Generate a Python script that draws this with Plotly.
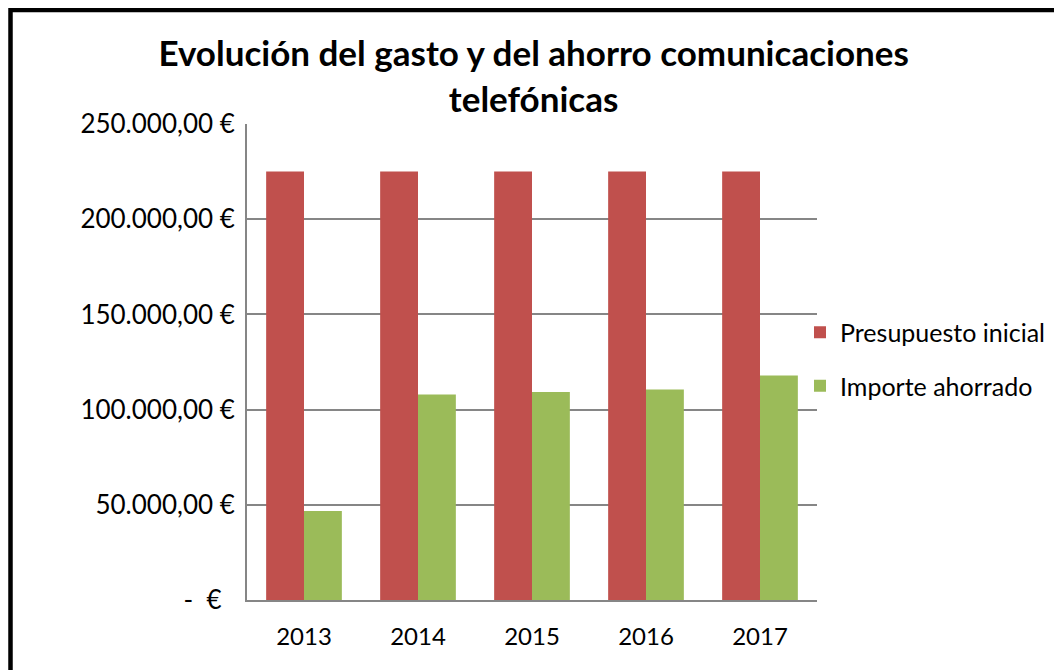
import plotly.graph_objects as go

# Datos del gráfico
anios = ["2013", "2014", "2015", "2016", "2017"]
presupuesto_inicial = [225000, 225000, 225000, 225000, 225000]
importe_ahorrado = [46800, 107900, 109300, 110500, 117900]

tick_vals = [0, 50000, 100000, 150000, 200000, 250000]
tick_text = ["-  €  ", "50.000,00 €", "100.000,00 €", "150.000,00 €",
             "200.000,00 €", "250.000,00 €"]

# la página tiene 8px de margen en el body
W, H = 1054, 662
L, R, T, B = 239, 245, 116, 70
pw, ph = W - L - R, H - T - B

fig = go.Figure()

fig.add_trace(go.Bar(
    x=anios, y=presupuesto_inicial, name="Presupuesto inicial",
    legendgroup="a",
    marker=dict(color="#C0504D", line=dict(width=0)),
))
fig.add_trace(go.Bar(
    x=anios, y=importe_ahorrado, name="Importe ahorrado",
    legendgroup="b",
    marker=dict(color="#9BBB59", line=dict(width=0)),
))

# Marco negro alrededor del gráfico
fig.add_shape(
    type="rect", xref="paper", yref="paper",
    x0=(2.5 - L) / pw, x1=(1053.5 - L) / pw,
    y0=-(30 + B) / ph, y1=(H - 2 - B) / ph,
    line=dict(color="black", width=4.5),
)

fig.update_layout(
    width=W, height=H,
    margin=dict(l=L, r=R, t=T, b=B),
    paper_bgcolor="white", plot_bgcolor="white",
    font=dict(family="Lato", size=26, color="black"),
    barmode="group", bargap=0.336, bargroupgap=0,
    title=dict(
        text="<b>Evolución del gasto y del ahorro comunicaciones<br>telefónicas</b>",
        x=530 / W, xanchor="center", xref="paper",
        y=1 - 58 / H, yanchor="middle", yref="container",
        font=dict(family="Lato", size=35, color="black"),
    ),
    legend=dict(
        x=(792 - L) / pw, y=(592 - 351) / ph, xanchor="left", yanchor="middle",
        xref="paper", yref="paper",
        font=dict(size=25), itemwidth=30, tracegroupgap=18,
        traceorder="grouped",
        bgcolor="rgba(0,0,0,0)",
    ),
    xaxis=dict(
        showline=True, linecolor="#868686", linewidth=2,
        showgrid=False, ticks="", tickfont=dict(size=24),
        ticklabelstandoff=14,
    ),
    yaxis=dict(
        range=[0, 250000], tickmode="array",
        tickvals=tick_vals, ticktext=tick_text,
        showline=True, linecolor="#868686", linewidth=2,
        showgrid=True, gridcolor="#868686", gridwidth=1.5,
        ticks="", ticklabelstandoff=5, tickfont=dict(size=26),
        zeroline=False,
    ),
)

fig.write_html("out.html")
